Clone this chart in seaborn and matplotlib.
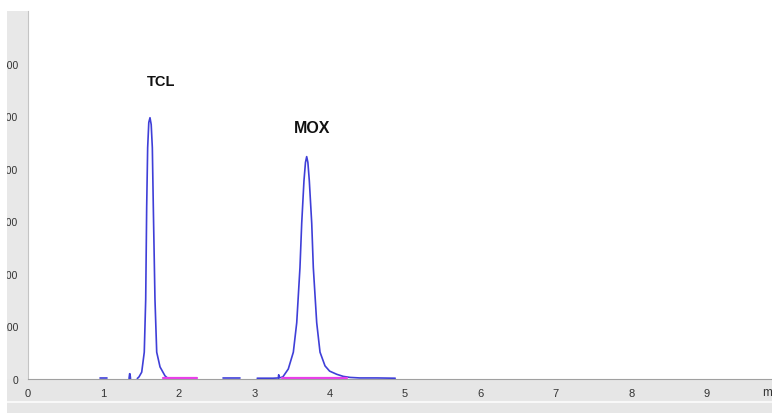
import numpy as np
import pandas as pd
import matplotlib
matplotlib.use('Agg')
import matplotlib.pyplot as plt
import matplotlib.ticker as ticker
from matplotlib.patches import Rectangle
import seaborn as sns

sns.set_style('white')
plt.rcParams['font.family'] = ['Liberation Sans', 'DejaVu Sans']

# chromatogram trace (time in min, signal in mAU)
# each segment is one visible piece of the blue trace
seg0_time = [0.95, 1.05]
seg0_signal = [1.5, 1.5]

seg1_time = [1.340, 1.348, 1.352, 1.360]
seg1_signal = [1.0, 10.0, 10.0, 1.0]

seg2_time = [1.45, 1.472, 1.508, 1.542, 1.561, 1.574, 1.587, 1.602, 1.618,
             1.634, 1.649, 1.662, 1.684, 1.707, 1.751, 1.817, 1.857]
seg2_signal = [1.0, 4.0, 13.0, 51.0, 151.0, 327.0, 440.0, 488.0, 497.0,
               484.0, 440.0, 327.0, 151.0, 51.0, 23.0, 6.0, 1.0]

seg3_time = [2.59, 2.81]
seg3_signal = [1.5, 1.5]

seg4_time = [3.04, 3.25, 3.32, 3.325, 3.33, 3.38, 3.452, 3.519, 3.564, 3.607,
             3.630, 3.660, 3.680, 3.696, 3.712, 3.731, 3.763, 3.784, 3.829,
             3.873, 3.939, 4.00, 4.094, 4.18, 4.271, 4.40, 4.63, 4.87]
seg4_signal = [1.5, 1.5, 2.0, 8.0, 2.0, 4.0, 19.0, 51.0, 107.0, 212.0,
               296.0, 377.0, 412.0, 423.0, 412.0, 377.0, 296.0, 212.0, 107.0,
               51.0, 25.0, 15.0, 9.0, 5.0, 3.0, 2.0, 2.0, 1.5]

# integration baselines (pink)
base_start = [1.79, 3.37]
base_end = [2.24, 4.23]
base_level = [1.0, 1.0]

peak_names = ['TCL', 'MOX']

x_ticks = [0, 1, 2, 3, 4, 5, 6, 7, 8, 9]
y_ticks = [0, 100, 200, 300, 400, 500, 600]
x_unit = 'min'

segments = [(seg0_time, seg0_signal), (seg1_time, seg1_signal),
            (seg2_time, seg2_signal), (seg3_time, seg3_signal),
            (seg4_time, seg4_signal)]
trace_df = pd.concat([pd.DataFrame({'time': t, 'signal': s, 'segment': i})
                      for i, (t, s) in enumerate(segments)], ignore_index=True)

base_df = pd.concat([pd.DataFrame({'time': [a, b], 'signal': [c, c], 'segment': i})
                     for i, (a, b, c) in enumerate(zip(base_start, base_end, base_level))],
                    ignore_index=True)

W, H = 772, 414
fig = plt.figure(figsize=(W / 100, H / 100), dpi=100)
ax = fig.add_axes([28 / W, 34 / H, (W - 28) / W, 368 / H])

# grey panels of the software window
fig.patches.append(Rectangle((7 / W, 0), 21 / W, (H - 12) / H, transform=fig.transFigure,
                             facecolor='#e8e8e8', edgecolor='none', zorder=-2))
fig.patches.append(Rectangle((7 / W, 0), (W - 7) / W, 34 / H, transform=fig.transFigure,
                             facecolor='#e6e6e6', edgecolor='none', zorder=-2))
fig.patches.append(Rectangle((7 / W, 10 / H), (W - 7) / W, 2 / H, transform=fig.transFigure,
                             facecolor='#f8f8f8', edgecolor='none', zorder=-1))

sns.lineplot(data=trace_df, x='time', y='signal', units='segment', estimator=None,
             sort=False, color='#3f3fd8', linewidth=1.2, ax=ax, zorder=3)
sns.lineplot(data=base_df, x='time', y='signal', units='segment', estimator=None,
             sort=False, color='#e840e8', linewidth=1.6, ax=ax, zorder=4)

# peak labels
label_pos = [(1.764, 567), (3.765, 479)]
label_size = [10.5, 11.5]
for name, (lx, ly), fs in zip(peak_names, label_pos, label_size):
    ax.text(lx, ly, name, ha='center', va='center', fontsize=fs, fontweight='bold', color='#111111')

ax.set_xlim(0, (W - 28) / 75.4)
ax.set_ylim(0, 700)
ax.set_xticks(x_ticks)
ax.set_yticks(y_ticks)
ax.xaxis.set_minor_locator(ticker.MultipleLocator(0.2))
ax.yaxis.set_minor_locator(ticker.MultipleLocator(20))
ax.set_xlabel('')
ax.set_ylabel('')

ax.tick_params(axis='x', which='major', direction='out', length=4, width=0.8, color='#8a8a8a',
               labelsize=8, labelcolor='#333333', pad=2.5)
ax.tick_params(axis='x', which='minor', direction='out', length=2, width=0.6, color='#9a9a9a')
ax.tick_params(axis='y', which='major', direction='out', length=3, width=0.8, color='#8a8a8a',
               labelsize=7.5, labelcolor='#333333', pad=4)
ax.tick_params(axis='y', which='minor', direction='out', length=2, width=0.6, color='#9a9a9a')

for side in ['top', 'right']:
    ax.spines[side].set_visible(False)
ax.spines['left'].set_color('#c4c4c4')
ax.spines['bottom'].set_color('#a0a0a0')
ax.spines['left'].set_linewidth(0.8)
ax.spines['bottom'].set_linewidth(0.8)

# axis unit, cut by the window edge like in the screenshot
ax.text(9.735, -0.035, x_unit, transform=ax.get_xaxis_transform(), ha='left', va='center',
        fontsize=8.5, color='#333333', clip_on=False)

# white margin that crops the y tick labels
fig.patches.append(Rectangle((0, 0), 7 / W, 1, transform=fig.transFigure,
                             facecolor='white', edgecolor='none', zorder=10))

fig.savefig('out.png', dpi=100)
